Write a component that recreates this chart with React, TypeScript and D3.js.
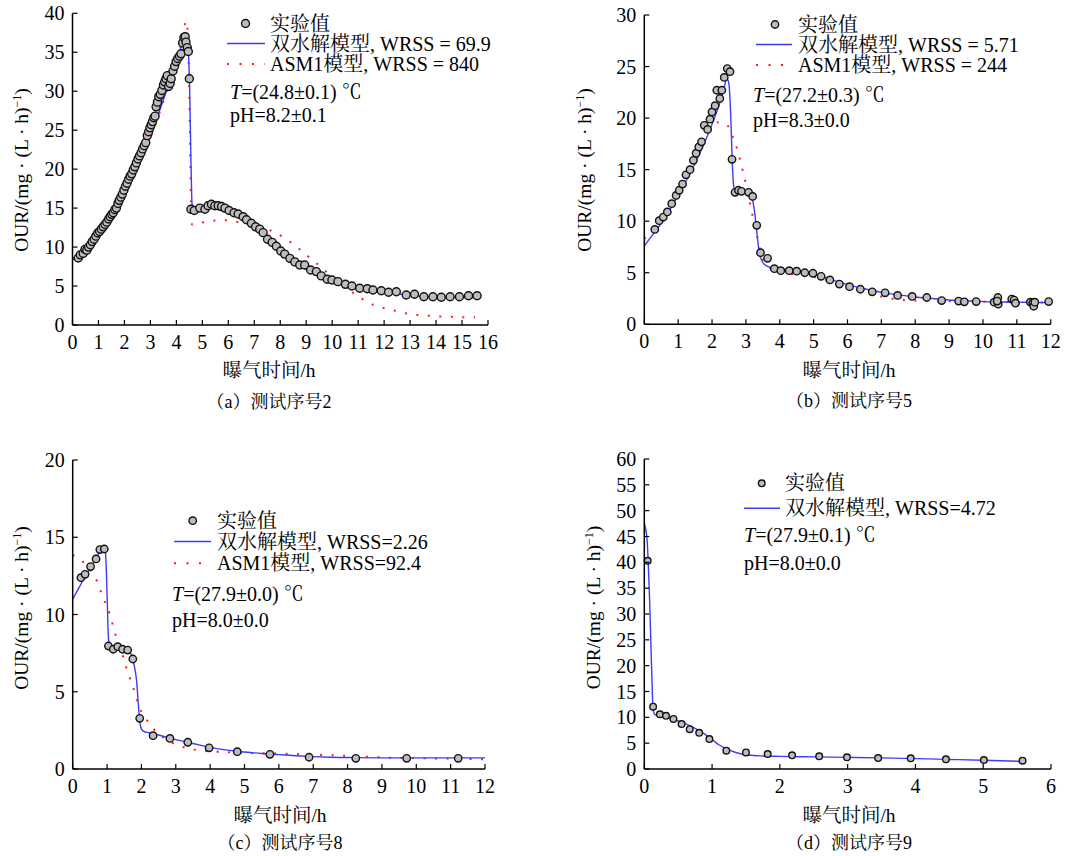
import React from "react";
import * as d3 from "d3";

type P = [number, number];

const FONT = '"Liberation Serif", "Noto Serif CJK SC", "Noto Sans CJK SC", serif';

// ---------- Panel (a) 测试序号2 ----------
const A_EXP: P[] = [
  [0.22, 8.6], [0.3, 9.0], [0.41, 9.2], [0.48, 9.7], [0.55, 9.6], [0.62, 10.0], [0.69, 10.3], [0.76, 10.7],
  [0.83, 11.0], [0.9, 11.4], [0.97, 11.8], [1.04, 12.0], [1.11, 12.3], [1.18, 12.6], [1.25, 12.9], [1.32, 13.2],
  [1.39, 13.6], [1.45, 13.9], [1.51, 14.2], [1.57, 14.4], [1.63, 14.8], [1.69, 15.0], [1.75, 15.6], [1.8, 16.0],
  [1.86, 16.4], [1.92, 16.8], [1.98, 17.3], [2.04, 17.8], [2.1, 18.2], [2.16, 18.7], [2.22, 19.1], [2.28, 19.4],
  [2.34, 19.9], [2.4, 20.3], [2.46, 20.8], [2.52, 21.3], [2.58, 21.7], [2.64, 22.1], [2.7, 22.6], [2.76, 23.0],
  [2.82, 23.4], [2.88, 24.3], [2.93, 24.8], [2.98, 25.3], [3.03, 25.7], [3.08, 26.1], [3.13, 26.6], [3.18, 26.8],
  [3.22, 28.0], [3.27, 28.6], [3.32, 29.3], [3.38, 29.6], [3.44, 30.1], [3.5, 30.8], [3.55, 31.2], [3.6, 31.6],
  [3.65, 32.0], [3.7, 30.6], [3.76, 31.0], [3.8, 31.6], [3.87, 32.6], [3.93, 33.2], [3.99, 33.8], [4.05, 34.2],
  [4.12, 34.5], [4.18, 34.8], [4.24, 36.2], [4.29, 36.9], [4.34, 37.0], [4.37, 36.3], [4.42, 35.6], [4.46, 35.1],
  [4.5, 31.6], [4.56, 14.85], [4.69, 14.7], [4.9, 15.0], [5.1, 14.85], [5.22, 15.3], [5.35, 15.5], [5.48, 15.3],
  [5.61, 15.3], [5.74, 15.2], [5.87, 15.0], [6.03, 14.7], [6.22, 14.4], [6.38, 14.25], [6.57, 13.9], [6.7, 13.5],
  [6.89, 13.05], [7.05, 12.6], [7.21, 12.3], [7.34, 11.85], [7.51, 11.0], [7.69, 10.6], [7.85, 10.1], [8.02, 9.5],
  [8.17, 9.1], [8.37, 8.55], [8.56, 8.1], [8.75, 7.7], [8.94, 7.7], [9.17, 7.06], [9.39, 6.85], [9.58, 6.3],
  [9.81, 5.87], [9.99, 5.78], [10.22, 5.56], [10.51, 5.22], [10.76, 5.0], [11.06, 4.71], [11.35, 4.66], [11.57, 4.49],
  [11.89, 4.4], [12.17, 4.2], [12.47, 4.27], [12.85, 3.85], [13.17, 3.94], [13.53, 3.63], [13.88, 3.63], [14.2, 3.56],
  [14.54, 3.63], [14.9, 3.63], [15.25, 3.76], [15.58, 3.76],
];
const A_HYD: P[] = [
  [0, 8.5], [0.25, 9.0], [0.5, 9.7], [0.75, 10.6], [1, 11.6], [1.25, 12.6], [1.5, 13.8], [1.75, 15.2], [2, 16.7],
  [2.25, 18.4], [2.5, 20.2], [2.75, 22.1], [3, 24.2], [3.25, 26.5], [3.5, 28.9], [3.75, 31.3], [4, 33.7],
  [4.15, 35.3], [4.3, 37.0], [4.36, 37.3], [4.42, 36.6], [4.47, 34.5], [4.51, 30.5], [4.55, 23], [4.59, 16.5],
  [4.62, 15.1], [4.7, 14.9], [5, 15.0], [5.5, 15.0], [6, 14.8], [6.5, 14.1], [7, 12.9], [7.5, 11.4], [8, 9.7],
  [8.5, 8.2], [9, 7.1], [9.5, 6.3], [10, 5.7], [10.5, 5.25], [11, 4.85], [11.5, 4.5], [12, 4.2], [12.5, 4.0],
  [13, 3.8], [13.5, 3.68], [14, 3.6], [14.5, 3.55], [15, 3.52], [15.6, 3.5],
];
const A_ASM: P[] = [
  [0, 8.4], [0.5, 9.6], [1, 11.5], [1.5, 13.7], [2, 16.6], [2.5, 20.1], [3, 24.0], [3.5, 28.7], [4, 33.8],
  [4.2, 36.2], [4.38, 39.0], [4.44, 37.5], [4.48, 33], [4.52, 25], [4.56, 17], [4.6, 12.9], [5.07, 13.2],
  [5.5, 13.4], [5.96, 13.45], [6.38, 13.2], [6.83, 12.9], [7.25, 12.6], [7.64, 12.1], [8.05, 11.4], [8.41, 10.6],
  [8.76, 9.7], [9.11, 8.7], [9.44, 7.8], [9.75, 6.9], [10.1, 5.95], [10.43, 5.1], [10.77, 4.2], [11.13, 3.4],
  [11.54, 2.65], [11.96, 2.2], [12.39, 1.85], [12.82, 1.5], [13.24, 1.3], [13.66, 1.2], [14.11, 1.1],
  [14.55, 1.05], [15, 1.0], [15.5, 1.0],
];

// ---------- Panel (b) 测试序号5 ----------
const B_EXP: P[] = [
  [0.31, 9.2], [0.44, 10.05], [0.56, 10.4], [0.68, 10.9], [0.81, 11.7], [0.94, 12.5], [1.03, 13.0], [1.13, 13.6],
  [1.23, 14.5], [1.35, 15.0], [1.45, 15.9], [1.53, 16.6], [1.61, 17.2], [1.69, 17.7], [1.77, 19.3], [1.87, 18.9],
  [1.94, 19.9], [2.0, 20.6], [2.09, 21.2], [2.14, 22.7], [2.23, 21.9], [2.29, 22.7], [2.36, 23.95], [2.45, 24.8],
  [2.53, 24.5], [2.59, 16.0], [2.68, 12.8], [2.78, 13.0], [2.87, 12.9], [3.08, 12.8], [3.2, 12.4], [3.32, 9.6],
  [3.43, 6.95], [3.64, 6.4], [3.84, 5.4], [4.03, 5.2], [4.28, 5.2], [4.5, 5.15], [4.74, 5.0], [4.98, 4.95],
  [5.22, 4.65], [5.48, 4.3], [5.76, 3.9], [6.06, 3.65], [6.38, 3.4], [6.73, 3.15], [7.11, 3.05], [7.48, 2.8],
  [7.91, 2.7], [8.34, 2.6], [8.78, 2.3], [9.28, 2.25], [9.45, 2.18], [9.8, 2.2], [10.33, 2.15], [10.44, 2.6],
  [10.45, 1.95], [10.42, 2.25], [10.85, 2.45], [10.92, 2.35], [10.96, 2.05], [11.4, 2.15], [11.47, 2.05],
  [11.5, 1.75], [11.53, 2.15], [11.94, 2.2],
];
const B_HYD: P[] = [
  [0, 7.6], [0.25, 8.7], [0.5, 9.8], [0.75, 11.1], [1, 12.5], [1.25, 14.0], [1.5, 15.6], [1.75, 17.4], [2, 19.4],
  [2.2, 21.2], [2.35, 22.8], [2.43, 23.8], [2.48, 23.6], [2.52, 22.5], [2.56, 19.5], [2.6, 15.5], [2.64, 13.4],
  [2.7, 12.9], [2.9, 12.8], [3.1, 12.6], [3.2, 12.0], [3.26, 10.8], [3.32, 9.0], [3.38, 7.3], [3.45, 6.3],
  [3.55, 5.8], [3.7, 5.55], [4, 5.4], [4.5, 5.2], [5, 4.9], [5.5, 4.35], [6, 3.85], [6.5, 3.45], [7, 3.1],
  [7.5, 2.85], [8, 2.65], [8.5, 2.5], [9, 2.35], [9.5, 2.27], [10, 2.2], [10.5, 2.17], [11, 2.15], [11.5, 2.12],
  [11.95, 2.1],
];
const B_ASM: P[] = [
  [0, 8.3], [0.5, 10.1], [1, 12.7], [1.5, 15.8], [1.8, 18.0], [2, 19.2], [2.2, 19.6], [2.45, 19.3], [2.6, 18.3],
  [2.75, 16.9], [2.9, 15.0], [3.0, 13.6], [3.1, 12.0], [3.2, 10.5], [3.3, 9.0], [3.4, 7.5], [3.5, 6.3],
  [3.65, 5.6], [3.9, 5.2], [4.3, 4.9], [5, 4.6], [5.5, 4.2], [6, 3.7], [6.5, 3.25], [7, 2.7], [7.5, 2.4],
  [8, 2.3], [9, 2.25], [10, 2.2], [11, 2.15], [12, 2.1],
];

// ---------- Panel (c) 测试序号8 ----------
const C_EXP: P[] = [
  [0.24, 12.38], [0.36, 12.6], [0.52, 13.1], [0.68, 13.6], [0.79, 14.2], [0.92, 14.24], [1.04, 7.96], [1.18, 7.75],
  [1.31, 7.92], [1.45, 7.75], [1.6, 7.7], [1.75, 7.12], [1.95, 3.28], [2.34, 2.16], [2.83, 1.98], [3.35, 1.73],
  [3.97, 1.37], [4.79, 1.12], [5.74, 0.95], [6.88, 0.76], [8.24, 0.69], [9.72, 0.69], [11.22, 0.69],
];
const C_HYD: P[] = [
  [0, 11.0], [0.2, 11.8], [0.4, 12.6], [0.6, 13.3], [0.8, 14.1], [0.9, 14.35], [0.95, 14.1], [0.98, 12.8],
  [1.01, 10.5], [1.04, 8.5], [1.08, 7.9], [1.3, 7.8], [1.5, 7.75], [1.65, 7.6], [1.74, 7.2], [1.8, 6.6],
  [1.86, 5.7], [1.92, 3.9], [1.97, 2.8], [2.05, 2.45], [2.2, 2.35], [2.5, 2.2], [3, 1.9], [3.5, 1.65], [4, 1.4],
  [4.5, 1.22], [5, 1.1], [5.5, 1.0], [6, 0.93], [6.5, 0.86], [7, 0.8], [7.5, 0.76], [8, 0.74], [9, 0.72],
  [10, 0.72], [11, 0.72], [12, 0.72],
];
const C_ASM: P[] = [
  [0, 13.85], [0.3, 13.4], [0.5, 12.9], [0.7, 12.2], [0.89, 11.05], [1.07, 10.1], [1.23, 8.8], [1.38, 7.9],
  [1.57, 6.5], [1.77, 5.2], [1.96, 3.9], [2.15, 3.2], [2.35, 2.6], [2.54, 2.2], [2.83, 1.77], [3.17, 1.45],
  [3.6, 1.23], [4.19, 1.12], [5, 1.05], [6, 1.0], [7, 0.93], [8, 0.85], [9, 0.75], [10, 0.7], [11, 0.67],
  [12, 0.63],
];

// ---------- Panel (d) 测试序号9 ----------
const D_EXP: P[] = [
  [0.05, 40.3], [0.13, 12.06], [0.23, 10.6], [0.32, 10.3], [0.43, 9.7], [0.55, 8.7], [0.67, 7.7], [0.81, 7.0],
  [0.96, 5.8], [1.21, 3.55], [1.5, 3.2], [1.82, 2.9], [2.18, 2.65], [2.58, 2.45], [2.99, 2.26], [3.45, 2.13],
  [3.93, 2.06], [4.45, 1.87], [5.01, 1.74], [5.58, 1.61],
];
const D_HYD: P[] = [
  [0, 47.5], [0.04, 44.5], [0.08, 32], [0.11, 18.5], [0.13, 11.5], [0.16, 10.5], [0.3, 10.1], [0.5, 9.3],
  [0.7, 8.2], [0.85, 7.1], [1, 5.7], [1.1, 4.7], [1.2, 4.0], [1.35, 3.2], [1.5, 2.75], [1.7, 2.55], [2, 2.45],
  [2.5, 2.35], [3, 2.25], [3.5, 2.15], [4, 2.0], [4.5, 1.85], [5, 1.7], [5.6, 1.45],
];

const BLUE = "#3c3cff";
const RED = "#ff1a1a";
const DOT_FILL = "#bdbdbd";

interface Cfg {
  left: number; right: number; top: number; bottom: number;
  xMax: number; yMax: number; yStep: number;
  exp: P[]; hyd: P[]; asm?: P[];
  r: number;
  hydLabel: string; asmLabel?: string; tLabel: string; phLabel: string;
  legX: number; legRows: number[]; lineX0: number; lineX1: number; markerX: number;
  tX: number; tY: number; phY: number;
  yTitleX: number; yTitleY: number; xTitleX: number; xTitleY: number; capY: number;
  caption: string;
}

function Panel({ c }: { c: Cfg }) {
  const x = d3.scaleLinear().domain([0, c.xMax]).range([c.left, c.right]);
  const y = d3.scaleLinear().domain([0, c.yMax]).range([c.bottom, c.top]);
  const line = d3.line<P>().x((d) => x(d[0])).y((d) => y(d[1])).curve(d3.curveMonotoneX);
  const xt = d3.range(0, c.xMax + 1e-9, 1);
  const yt = d3.range(0, c.yMax + 1e-9, c.yStep);
  const fs = 20;
  return (
    <g style={{ fontFamily: FONT }} fill="#000">
      {c.asm && (
        <path d={line(c.asm) || ""} fill="none" stroke={RED} strokeWidth={2} strokeDasharray="2 9.5" />
      )}
      <path d={line(c.hyd) || ""} fill="none" stroke={BLUE} strokeWidth={1.4} />
      {c.exp.map((d, i) => (
        <circle key={i} cx={x(d[0])} cy={y(d[1])} r={c.r} fill={DOT_FILL} stroke="#111" strokeWidth={1.4} />
      ))}
      <line x1={c.left} x2={c.left} y1={c.top} y2={c.bottom} stroke="#000" strokeWidth={1.5} />
      <line x1={c.left} x2={c.right} y1={c.bottom} y2={c.bottom} stroke="#000" strokeWidth={1.5} />
      {xt.map((t) => (
        <g key={"x" + t}>
          <line x1={x(t)} x2={x(t)} y1={c.bottom} y2={c.bottom - 5} stroke="#000" strokeWidth={1.2} />
          <text x={x(t)} y={c.bottom + 24} textAnchor="middle" fontSize={fs}>{t}</text>
        </g>
      ))}
      {yt.map((v) => (
        <g key={"y" + v}>
          <line x1={c.left} x2={c.left + 5} y1={y(v)} y2={y(v)} stroke="#000" strokeWidth={1.2} />
          <text x={c.left - 8} y={y(v)} dy="0.35em" textAnchor="end" fontSize={fs}>{v}</text>
        </g>
      ))}
      <text transform={`translate(${c.yTitleX},${c.yTitleY}) rotate(-90)`} textAnchor="middle" fontSize={19.5} dy="0.35em">
        OUR/(mg · (L · h)<tspan dy="-7" fontSize={12}>−1</tspan><tspan dy="7">)</tspan>
      </text>
      <text x={c.xTitleX} y={c.xTitleY} textAnchor="middle" fontSize={19.5} dy="0.35em">曝气时间/h</text>
      <text x={c.xTitleX} y={c.capY} textAnchor="middle" fontSize={18} dy="0.35em">{c.caption}</text>
      <circle cx={c.markerX} cy={c.legRows[0]} r={c.r} fill={DOT_FILL} stroke="#111" strokeWidth={1.4} />
      <text x={c.legX} y={c.legRows[0]} dy="0.35em" fontSize={fs}>实验值</text>
      <line x1={c.lineX0} x2={c.lineX1} y1={c.legRows[1]} y2={c.legRows[1]} stroke={BLUE} strokeWidth={1.4} />
      <text x={c.legX} y={c.legRows[1]} dy="0.35em" fontSize={fs}>{c.hydLabel}</text>
      {c.asmLabel && (
        <>
          <line x1={c.lineX0} x2={c.lineX1} y1={c.legRows[2]} y2={c.legRows[2]} stroke={RED} strokeWidth={2} strokeDasharray="2 10.5" />
          <text x={c.legX} y={c.legRows[2]} dy="0.35em" fontSize={fs}>{c.asmLabel}</text>
        </>
      )}
      <text x={c.tX} y={c.tY} dy="0.35em" fontSize={fs}>
        <tspan fontStyle="italic">T</tspan>{c.tLabel}
      </text>
      <text x={c.tX} y={c.phY} dy="0.35em" fontSize={fs}>{c.phLabel}</text>
    </g>
  );
}

const PANELS: Cfg[] = [
  {
    left: 72.5, right: 488, top: 13.3, bottom: 325, xMax: 16, yMax: 40, yStep: 5,
    exp: A_EXP, hyd: A_HYD, asm: A_ASM, r: 4,
    hydLabel: "双水解模型, WRSS = 69.9", asmLabel: "ASM1模型, WRSS = 840",
    tLabel: "=(24.8±0.1) ℃", phLabel: "pH=8.2±0.1",
    legX: 270, legRows: [23.5, 43.5, 64], lineX0: 227, lineX1: 265, markerX: 245.5,
    tX: 230, tY: 92, phY: 115,
    yTitleX: 21, yTitleY: 170, xTitleX: 269, xTitleY: 370, capY: 402, caption: "（a）测试序号2",
  },
  {
    left: 644.3, right: 1050.7, top: 15, bottom: 324.3, xMax: 12, yMax: 30, yStep: 5,
    exp: B_EXP, hyd: B_HYD, asm: B_ASM, r: 3.7,
    hydLabel: "双水解模型, WRSS = 5.71", asmLabel: "ASM1模型, WRSS = 244",
    tLabel: "=(27.2±0.3) ℃", phLabel: "pH=8.3±0.0",
    legX: 798, legRows: [24.5, 44.5, 65], lineX0: 756, lineX1: 792, markerX: 775,
    tX: 753, tY: 94.5, phY: 120,
    yTitleX: 584, yTitleY: 170, xTitleX: 849, xTitleY: 370, capY: 401, caption: "（b）测试序号5",
  },
  {
    left: 72.7, right: 485, top: 460, bottom: 769, xMax: 12, yMax: 20, yStep: 5,
    exp: C_EXP, hyd: C_HYD, asm: C_ASM, r: 3.7,
    hydLabel: "双水解模型, WRSS=2.26", asmLabel: "ASM1模型, WRSS=92.4",
    tLabel: "=(27.9±0.0) ℃", phLabel: "pH=8.0±0.0",
    legX: 217, legRows: [520.7, 541.5, 563.3], lineX0: 174, lineX1: 211, markerX: 192.7,
    tX: 172, tY: 593.5, phY: 620,
    yTitleX: 21, yTitleY: 608, xTitleX: 280, xTitleY: 815, capY: 843, caption: "（c）测试序号8",
  },
  {
    left: 644.3, right: 1051, top: 459, bottom: 769, xMax: 6, yMax: 60, yStep: 5,
    exp: D_EXP, hyd: D_HYD, r: 3.3,
    hydLabel: "双水解模型, WRSS=4.72",
    tLabel: "=(27.9±0.1) ℃", phLabel: "pH=8.0±0.0",
    legX: 785, legRows: [483.3, 508.3], lineX0: 744, lineX1: 780, markerX: 761.7,
    tX: 744, tY: 535, phY: 562.5,
    yTitleX: 593.5, yTitleY: 607.5, xTitleX: 849, xTitleY: 815, capY: 843, caption: "（d）测试序号9",
  },
];

export default function App() {
  return (
    <svg
      width={1072}
      height={856}
      viewBox="0 0 1072 856"
      style={{ position: "absolute", left: 0, top: 0, background: "#fff", fontFamily: FONT }}
    >
      <rect x={0} y={0} width={1072} height={856} fill="#fff" />
      {PANELS.map((c, i) => (
        <Panel key={i} c={c} />
      ))}
    </svg>
  );
}
